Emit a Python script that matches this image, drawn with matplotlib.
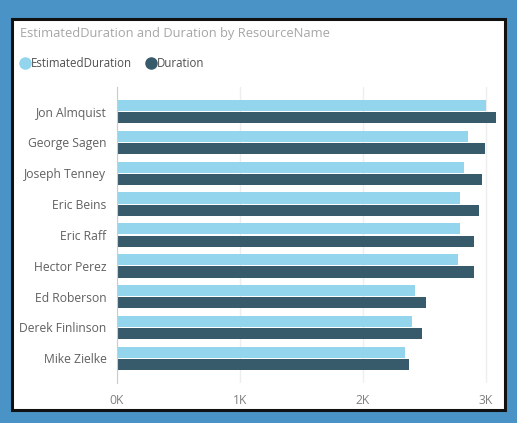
import numpy as np
import matplotlib.pyplot as plt
from matplotlib.patches import Rectangle
from matplotlib.lines import Line2D

names = ["Jon Almquist", "George Sagen", "Joseph Tenney", "Eric Beins", "Eric Raff",
         "Hector Perez", "Ed Roberson", "Derek Finlinson", "Mike Zielke"]
estimated = [3000, 2850, 2820, 2790, 2790, 2770, 2420, 2400, 2340]
duration = [3080, 2990, 2970, 2940, 2900, 2900, 2510, 2480, 2370]
xticks = [0, 1000, 2000, 3000]
xlabels = ["0K", "1K", "2K", "3K"]

W, H = 517, 423
plt.rcParams['font.family'] = ['Open Sans', 'DejaVu Sans']

fig = plt.figure(figsize=(W / 100, H / 100), dpi=100)
fig.patch.set_facecolor('#4a93c6')

# white card with black frame
fig.patches.append(Rectangle((12 / W, 1 - 409.5 / H), 493 / W, 390.5 / H,
                             transform=fig.transFigure, facecolor='white',
                             edgecolor='#111111', linewidth=2.2, zorder=-5))

fig.text(20 / W, 1 - 33 / H, "EstimatedDuration and Duration by ResourceName",
         color='#a6a6a6', fontsize=9.3, va='center', ha='left')

light = '#93d5ec'
dark = '#385b6c'
ly = 1 - 63.5 / H
fig.lines.append(Line2D([24.5 / W], [ly], marker='o', markersize=8, color=light,
                        transform=fig.transFigure))
fig.text(31 / W, ly, "EstimatedDuration", color='#505050', fontsize=8.3,
         va='center', ha='left')
fig.lines.append(Line2D([150.5 / W], [ly], marker='o', markersize=8, color=dark,
                        transform=fig.transFigure))
fig.text(157 / W, ly, "Duration", color='#505050', fontsize=8.3,
         va='center', ha='left')

ax = fig.add_axes([117 / W, 1 - 383 / H, (3.1 * 123) / W, (383 - 87) / H])
ax.set_zorder(2)
ax.patch.set_alpha(0)

y = np.arange(len(names))
bh = 0.36
ax.barh(y - bh / 2 - 0.02, estimated, height=bh, color=light, zorder=2)
ax.barh(y + bh / 2 + 0.02, duration, height=bh, color=dark, zorder=2)

ax.set_xlim(0, 3100)
ax.set_ylim(len(names) - 0.2, -0.8)
ax.set_yticks(y)
ax.set_yticklabels(names, color='#606060', fontsize=8.7)
ax.set_xticks(xticks)
ax.set_xticklabels(xlabels, color='#808080', fontsize=8.7)
ax.tick_params(length=0)
ax.tick_params(axis='y', pad=7.5)
ax.tick_params(axis='x', pad=8)
ax.grid(axis='x', color='#eeeeee', linewidth=1, zorder=0)
for s in ['top', 'right', 'bottom']:
    ax.spines[s].set_visible(False)
ax.spines['left'].set_color('#cccccc')

fig.savefig('out.png', dpi=100, facecolor=fig.get_facecolor())
